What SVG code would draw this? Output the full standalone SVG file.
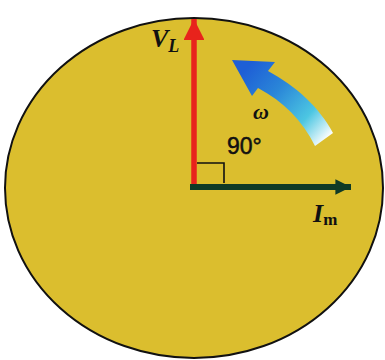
<svg xmlns="http://www.w3.org/2000/svg" width="385" height="360" viewBox="0 0 385 360">
  <defs>
    <linearGradient id="omegaGrad" gradientUnits="userSpaceOnUse" x1="245" y1="70" x2="325" y2="142">
      <stop offset="0" stop-color="#1e5fd6"/>
      <stop offset="0.35" stop-color="#2a86d8"/>
      <stop offset="0.72" stop-color="#4cc6e2"/>
      <stop offset="1" stop-color="#ffffff"/>
    </linearGradient>
    <marker id="redHead" viewBox="0 0 10 10" refX="10" refY="5" markerWidth="4.6" markerHeight="3.8" markerUnits="strokeWidth" orient="auto">
      <path d="M0,0 L10,5 L0,10 z" fill="#e8231c"/>
    </marker>
    <marker id="greenHead" viewBox="0 0 10 10" refX="10" refY="5" markerWidth="4.2" markerHeight="2.6" markerUnits="strokeWidth" orient="auto">
      <path d="M0,0 L10,5 L0,10 z" fill="#0f3a26"/>
    </marker>
  </defs>
  <style>
    .serif { font-family: "Liberation Serif", "Times New Roman", serif; font-weight: bold; fill: #111; }
    .sans { font-family: "Liberation Sans", Arial, sans-serif; fill: #111; stroke: #111; stroke-width: 0.5; }
  </style>
  <rect x="0" y="0" width="385" height="360" fill="#ffffff"/>
  <g id="disc">
    <ellipse cx="194" cy="188" rx="189" ry="170" fill="#dbbe2e" stroke="#111" stroke-width="2"/>
  </g>
  <g id="connectors">
    <line id="VL-vector" x1="194" y1="187" x2="194" y2="19" stroke="#e8231c" stroke-width="5.5" marker-end="url(#redHead)"/>
    <line id="Im-vector" x1="190" y1="187" x2="351" y2="187" stroke="#0f3a26" stroke-width="6" marker-end="url(#greenHead)"/>
  </g>
  <g id="right-angle">
    <polyline points="197,163 224,163 224,183" fill="none" stroke="#111" stroke-width="1.6"/>
  </g>
  <g id="omega-arrow">
    <path d="M232,60 L275,62 L268,71 C296,86 320,108 333,133 L315,146 C302,120 284,102 258,88 L252,96 Z" fill="url(#omegaGrad)"/>
  </g>
  <g id="labels">
    <text class="serif" x="151" y="47" font-size="26" font-style="italic">V<tspan font-size="18" dy="5">L</tspan></text>
    <text class="serif" x="253" y="119" font-size="22" font-style="italic">ω</text>
    <text class="sans" x="227" y="154" font-size="23">90°</text>
    <text class="serif" x="313" y="222" font-size="26" font-style="italic">I<tspan font-size="17" font-style="normal" dy="3">m</tspan></text>
  </g>
</svg>
